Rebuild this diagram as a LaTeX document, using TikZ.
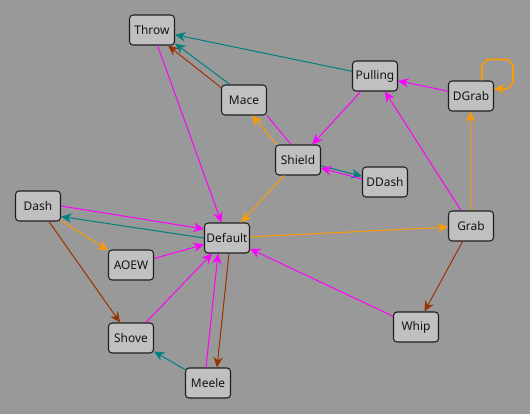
\documentclass[tikz,border=0pt]{standalone}
\usepackage{fontspec}
\setmainfont{Noto Sans}
\usepackage{tikz}
\usetikzlibrary{arrows.meta, positioning, calc}
\usepackage{xcolor}
\definecolor{bgGray}{RGB}{153,153,153}
\definecolor{nodeFill}{RGB}{192,192,192}
\definecolor{nodeEdge}{RGB}{30,30,30}
\definecolor{nodeText}{RGB}{20,20,20}
\definecolor{linkPink}{RGB}{255,0,255}
\definecolor{linkTeal}{RGB}{0,128,128}
\definecolor{linkBrown}{RGB}{153,51,0}
\definecolor{linkOrange}{RGB}{255,153,0}

\begin{document}
\begin{tikzpicture}[
  x=0.02cm, y=-0.02cm,
  state/.style={
    rectangle, rounded corners=2pt,
    draw=nodeEdge, fill=nodeFill, line width=0.6pt,
    minimum width=0.9cm, minimum height=0.6cm, inner sep=1pt,
    font=\fontsize{6.8}{8}\selectfont, text=nodeText
  },
  arr/.style={-{Stealth[length=6pt,width=5.4pt,inset=2pt]},
    line width=0.55pt, draw=#1, fill=#1},
  link/.style={line width=0.55pt, draw=#1}
]
  \fill[bgGray] (0,0) rectangle (530,414);
  \useasboundingbox (0,0) rectangle (530,414);

  % action nodes
  \node[state] (Throw)   at (152,30)  {Throw};
  \node[state] (Mace)    at (244,100) {Mace};
  \node[state] (Pulling) at (375,76)  {Pulling};
  \node[state] (DGrab)   at (471,96)  {DGrab};
  \node[state] (Shield)  at (298,160) {Shield};
  \node[state] (DDash)   at (385,182) {DDash};
  \node[state] (Dash)    at (38,206)  {Dash};
  \node[state] (Default) at (227,238) {Default};
  \node[state] (AOEW)    at (131,265) {AOEW};
  \node[state] (Grab)    at (471,226) {Grab};
  \node[state] (Shove)   at (131,338) {Shove};
  \node[state] (Whip)    at (416,327) {Whip};
  \node[state] (Meele)   at (208,383) {Meele};

  \foreach \a/\b in {Pulling/Shield, DGrab/Pulling, Grab/Pulling,
      Throw/Default, AOEW/Default, Shove/Default, Whip/Default}
    \draw[arr=linkPink] (\a) -- (\b);
  \foreach \a/\b in {Shield/Default, Dash/AOEW, Default/Grab}
    \draw[arr=linkOrange] (\a) -- (\b);
  \foreach \a/\b in {Pulling/Throw, Meele/Shove, Shield/DDash}
    \draw[arr=linkTeal] (\a) -- (\b);
  \foreach \a/\b in {Dash/Shove, Grab/Whip}
    \draw[arr=linkBrown] (\a) -- (\b);
  \draw[arr=linkOrange] ([xshift=-0.01cm]Grab.north)
    -- ([xshift=-0.01cm]DGrab.south);

  % paired links
  \draw[arr=linkBrown] ([yshift=-0.06cm]Mace.north west)
    -- ([xshift=-0.14cm]Throw.south east);
  \draw[arr=linkTeal] ([xshift=0.18cm]Mace.north west)
    -- ([yshift=0.04cm]Throw.south east);
  \draw[arr=linkOrange] ([xshift=0.04cm]Shield.north west)
    -- ([xshift=0.16cm]Mace.south);
  \draw[link=linkPink] (Mace.south east)
    -- ([xshift=-0.14cm]Shield.north);
  \draw[arr=linkPink] ([yshift=0.06cm]DDash.west)
    -- ([yshift=-0.16cm]Shield.east);
  \draw[arr=linkPink] (Dash.east)
    -- ([yshift=0.18cm]Default.west);
  \draw[arr=linkTeal] (Default.west)
    -- ([yshift=0.1cm]Dash.south east);
  \draw[arr=linkPink] ([xshift=-0.04cm]Meele.north)
    -- ([xshift=-0.18cm]Default.south);
  \draw[arr=linkBrown] ([xshift=0.04cm]Default.south)
    -- ([xshift=0.18cm]Meele.north);

  % self loop
  \draw[arr=linkOrange, fill=none, line width=0.9pt]
    ([xshift=0.22cm]DGrab.north)
    -- ++(0,-15) -- ++(5,-6) -- ++(21,0) -- ++(5,6)
    -- ++(0,17) -- ++(-5,6) -- ([yshift=0.14cm]DGrab.east);
\end{tikzpicture}
\end{document}
